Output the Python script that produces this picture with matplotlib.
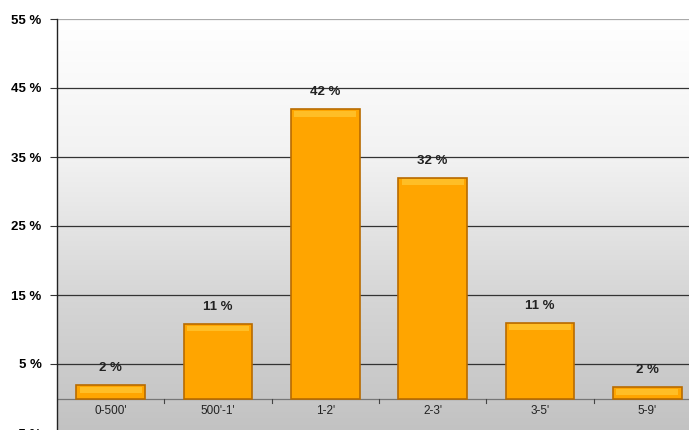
import numpy as np
import matplotlib
matplotlib.use("Agg")
import matplotlib.pyplot as plt

# data
categories = ["0-500'", "500'-1'", "1-2'", "2-3'", "3-5'", "5-9'"]
values = [1.9, 10.8, 41.9, 32.0, 11.0, 1.6]
value_labels = ["2 %", "11 %", "42 %", "32 %", "11 %", "2 %"]
yticks = [-5, 5, 15, 25, 35, 45, 55]
ytick_labels = ["-5 %", "5 %", "15 %", "25 %", "35 %", "45 %", "55 %"]

plt.rcParams['font.family'] = ['Liberation Sans', 'DejaVu Sans']

fig = plt.figure(figsize=(6.89, 4.30), dpi=100)
ax = fig.add_axes([57 / 689, -3 / 430, 644 / 689, 414 / 430])

x = np.arange(len(categories))
ax.set_xlim(-0.5, len(categories) - 0.5)
ax.set_ylim(-5, 55)

# background gradient: white at top, grey at bottom
grad = np.linspace(0, 1, 256).reshape(-1, 1)
cmap = matplotlib.colors.LinearSegmentedColormap.from_list(
    "bg", ["#c2c2c2", "#d6d6d6", "#f2f2f2", "#ffffff"])
ax.imshow(grad, aspect="auto", cmap=cmap, origin="lower",
          extent=[-0.5, len(categories) - 0.5, -5, 55], zorder=0)

# gridlines
for yv in [5, 15, 25, 35, 45]:
    ax.axhline(yv, color="#333333", lw=0.9, zorder=1)
ax.axhline(55, color="#aaaaaa", lw=0.9, zorder=1)
ax.axhline(0, color="#777777", lw=0.9, zorder=1)

bars = ax.bar(x, values, width=0.64, color="#ffa500", edgecolor="#b86b00",
              linewidth=1.2, zorder=3)
# light highlight strip along the top of each bar
ax.bar(x, [min(v, 0.8) for v in values], bottom=[v - min(v, 0.8) - 0.25 for v in values],
       width=0.58, color="#ffd040", alpha=0.6, linewidth=0, zorder=3.5)

for xi, v, lab in zip(x, values, value_labels):
    ax.text(xi, v + 1.6, lab, ha="center", va="bottom", fontsize=9.5,
            fontweight="bold", color="#222222", zorder=4)

# category labels inside the axes below the zero line
for xi, c in zip(x, categories):
    ax.text(xi, -1.8, c, ha="center", va="center", fontsize=8.5,
            color="#222222", zorder=4)

# small ticks at category boundaries
for b in np.arange(0.5, len(categories) - 0.5, 1.0):
    ax.plot([b, b], [-0.6, 0], color="#444444", lw=0.8, zorder=2)

ax.set_xticks([])
ax.set_yticks(yticks)
ax.set_yticklabels(ytick_labels, fontsize=9.5, fontweight="bold")
ax.tick_params(axis="y", length=5, width=0.8, color="#333333", pad=6)

for s in ["top", "right", "bottom"]:
    ax.spines[s].set_visible(False)
ax.spines["left"].set_color("#222222")
ax.spines["left"].set_linewidth(1.0)

fig.savefig("out.png", dpi=100)
